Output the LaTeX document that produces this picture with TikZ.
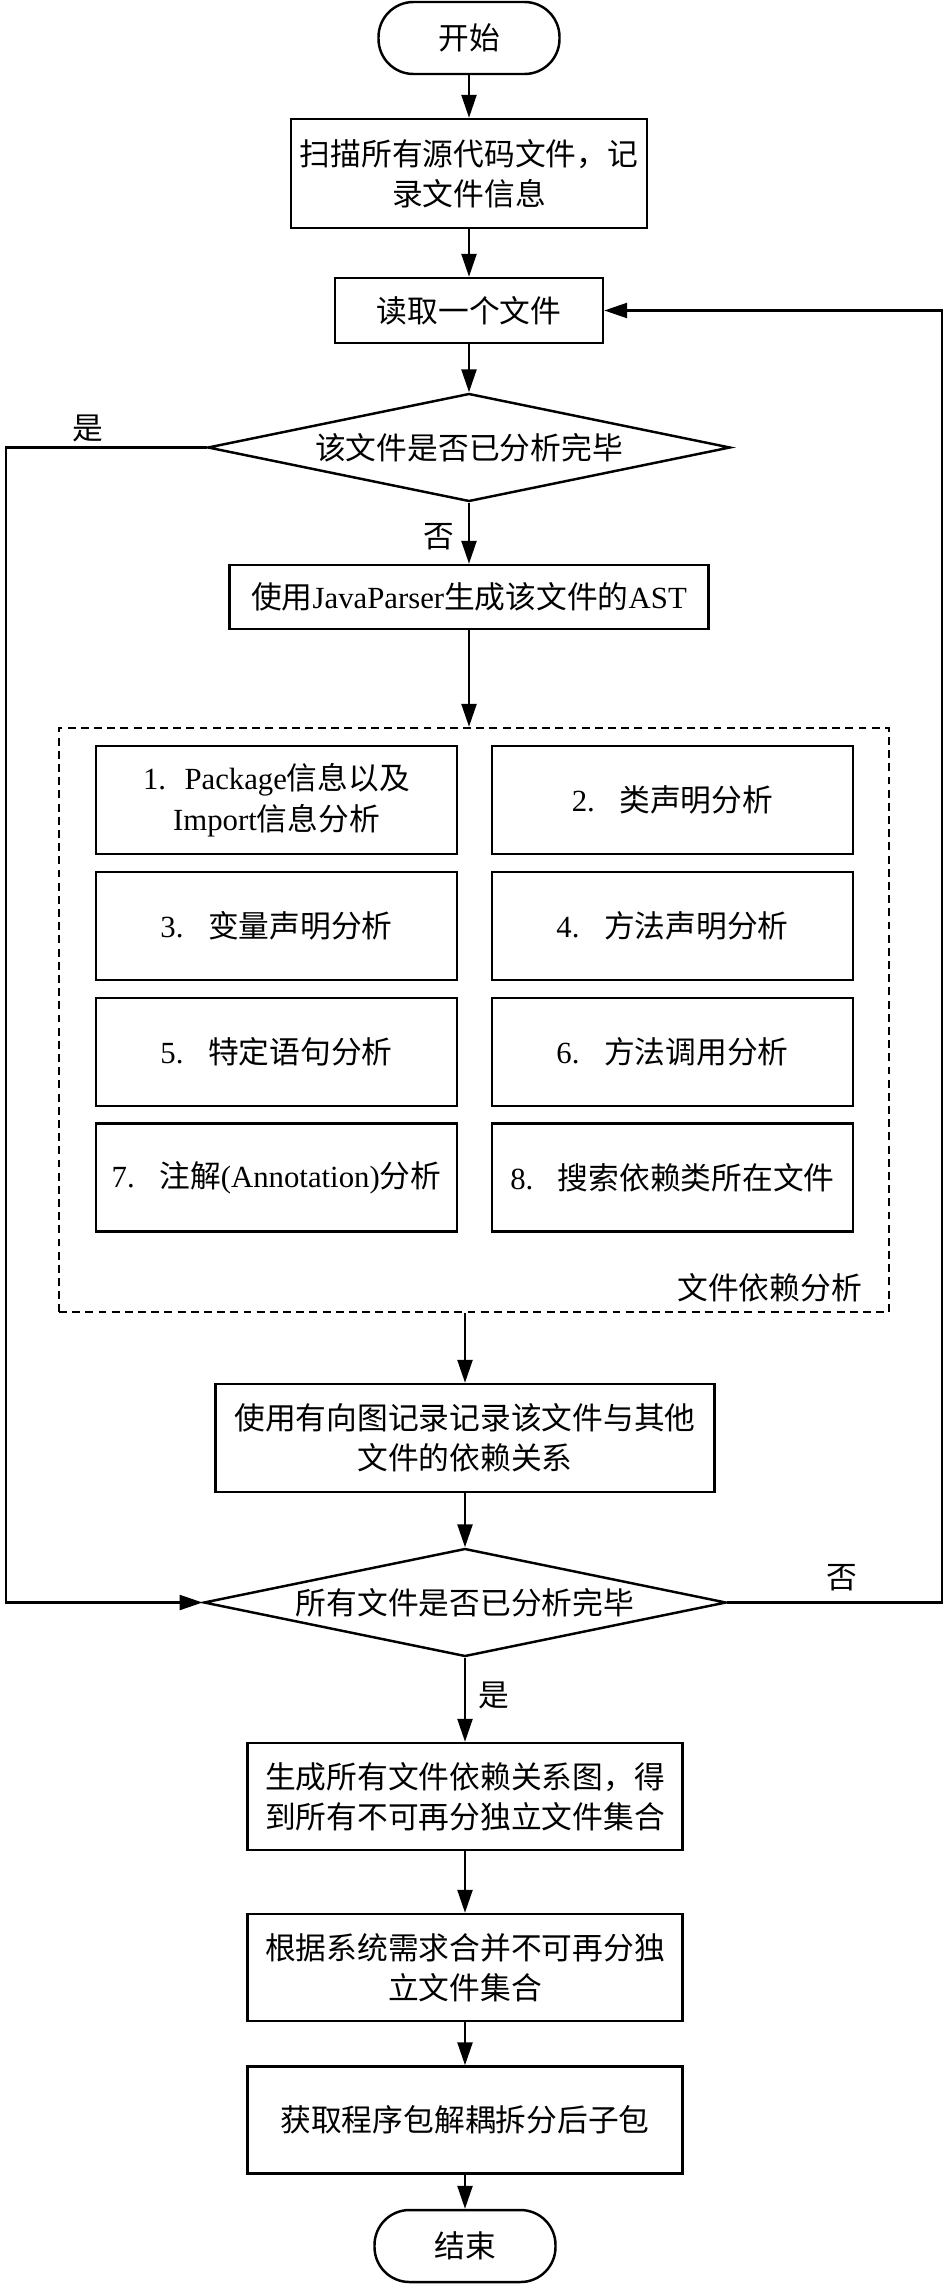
\documentclass[tikz,border=0pt]{standalone}
\usepackage{fontspec}
\setmainfont{Noto Sans CJK SC}
\newfontfamily\tnr{Liberation Serif}
\usetikzlibrary{arrows.meta,shapes.geometric}

\begin{document}
\begin{tikzpicture}[
    font=\fontsize{17.5}{23}\selectfont,
    line width=1.4pt,
    >={Triangle[length=4.6mm,width=3mm]},
    proc/.style={draw,rectangle,align=center,inner sep=0pt},
    term/.style={draw,rectangle,rounded corners=7mm,minimum width=3.62cm,minimum height=1.44cm},
    decide/.style={draw,diamond,aspect=4.8,inner sep=0pt,minimum width=10.45cm,minimum height=2.16cm},
    sub/.style={proc,minimum width=7.22cm,minimum height=2.16cm},
    group/.style={draw,dash pattern=on 4.5pt off 3pt,minimum width=16.6cm,minimum height=11.68cm}
]
    \useasboundingbox (0,0) rectangle (18.9,-45.7);

    % upper part
    \node[term] (start) at (9.38,-0.76) {开始};
    \node[proc,minimum width=7.12cm,minimum height=2.18cm] (scan) at (9.38,-3.47)
        {扫描所有源代码文件，记\\录文件信息};
    \node[proc,minimum width=5.36cm,minimum height=1.3cm] (read) at (9.38,-6.21) {读取一个文件};
    \node[decide] (done) at (9.38,-8.95) {该文件是否已分析完毕};
    \node[proc,minimum width=9.58cm,minimum height=1.28cm] (ast) at (9.38,-11.94)
        {使用{\tnr JavaParser}生成该文件的{\tnr AST}};

    % file dependency analysis
    \node[group] (dep) at (9.48,-20.4) {};
    \node[anchor=east] (deplbl) at (17.38,-25.76) {文件依赖分析};
    \node[sub] (a1) at (5.53,-16.0) {{\tnr 1.\hspace{0.6em}Package}信息以及\\{\tnr Import}信息分析};
    \node[sub] (a2) at (13.45,-16.0) {{\tnr 2.}\hspace{0.8em}类声明分析};
    \node[sub] (a3) at (5.53,-18.52) {{\tnr 3.}\hspace{0.8em}变量声明分析};
    \node[sub] (a4) at (13.45,-18.52) {{\tnr 4.}\hspace{0.8em}方法声明分析};
    \node[sub] (a5) at (5.53,-21.04) {{\tnr 5.}\hspace{0.8em}特定语句分析};
    \node[sub] (a6) at (13.45,-21.04) {{\tnr 6.}\hspace{0.8em}方法调用分析};
    \node[sub] (a7) at (5.53,-23.55) {{\tnr 7.}\hspace{0.8em}注解{\tnr (Annotation)}分析};
    \node[sub] (a8) at (13.45,-23.55) {{\tnr 8.}\hspace{0.8em}搜索依赖类所在文件};

    % lower part
    \node[proc,minimum width=9.98cm,minimum height=2.16cm] (graph) at (9.3,-28.76)
        {使用有向图记录记录该文件与其他\\文件的依赖关系};
    \node[decide] (alldone) at (9.3,-32.05) {所有文件是否已分析完毕};
    \node[proc,minimum width=8.7cm,minimum height=2.14cm] (gen) at (9.3,-35.93)
        {生成所有文件依赖关系图，得\\到所有不可再分独立文件集合};
    \node[proc,minimum width=8.7cm,minimum height=2.14cm] (merge) at (9.3,-39.35)
        {根据系统需求合并不可再分独\\立文件集合};
    \node[proc,minimum width=8.7cm,minimum height=2.14cm] (split) at (9.3,-42.4)
        {获取程序包解耦拆分后子包};
    \node[term] (stop) at (9.3,-44.92) {结束};

    % labels
    \node (yes1) at (1.76,-8.56) {是};
    \node (no1) at (8.78,-10.74) {否};
    \node (no2) at (16.84,-31.56) {否};
    \node (yes2) at (9.88,-33.9) {是};

    \coordinate (lft) at (0.12,0);
    \coordinate (rgt) at (18.84,0);

    % connectors
    \draw[->] (start) -- (scan);
    \draw[->] (scan) -- (read);
    \draw[->] (read) -- (done);
    \draw[->] (done) -- (ast);
    \draw[->] (ast) -- (ast |- dep.north);
    \draw[->] (dep.south -| graph) -- (graph);
    \draw[->] (graph) -- (alldone);
    \draw[->] (alldone) -- (gen);
    \draw[->] (gen) -- (merge);
    \draw[->] (merge) -- (split);
    \draw[->] (split) -- (stop);
    \draw[->] (done.west) -- (done.west -| lft) -- (alldone.west -| lft) -- (alldone.west);
    \draw[->] (alldone.east) -- (alldone.east -| rgt) -- (read.east -| rgt) -- (read.east);
\end{tikzpicture}
\end{document}
